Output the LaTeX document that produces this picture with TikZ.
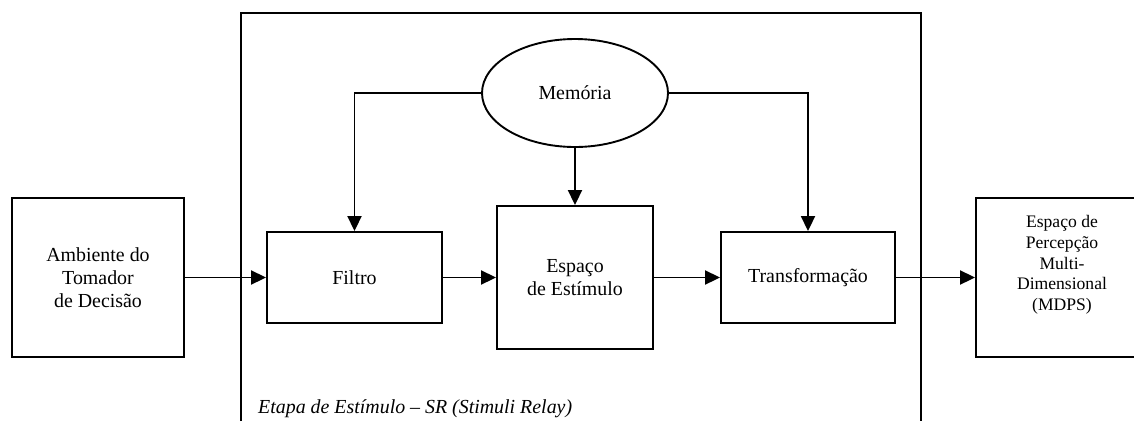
\documentclass[tikz,border=0pt]{standalone}
\usepackage{fontspec}
\setmainfont{Liberation Serif}
\usetikzlibrary{shapes.geometric,arrows.meta}
\tikzset{
  base/.style={font=\fontsize{19.9}{22.8}\selectfont, align=center, inner sep=0pt},
  blk/.style={base, draw, line width=1.9pt, rectangle},
  conn/.style={line width=1.9pt, -{Triangle[length=15pt,width=14pt]}},
  frame/.style={line width=1.9pt}
}
\begin{document}
\begin{tikzpicture}[x=1pt,y=-1pt]
\useasboundingbox (0,0) rectangle (1134,421);
% outer stage frame (open at bottom)
\coordinate (fbl) at (241,421);
\coordinate (ftl) at (241,13);
\coordinate (ftr) at (921,13);
\coordinate (fbr) at (921,421);
\draw[frame] (fbl) -- (ftl) -- (ftr) -- (fbr);
\node[base, anchor=base west, font=\fontsize{19.9}{22.8}\selectfont\itshape] (etapa) at (258,413) {Etapa de Estímulo -- SR (Stimuli Relay)};

\node[blk, minimum width=172, minimum height=159] (amb) at (98,277.5) {Ambiente do\\Tomador\\de Decisão};
\node[blk, minimum width=175, minimum height=91] (filtro) at (354.5,277.5) {Filtro};
\node[blk, minimum width=156, minimum height=143] (esp) at (575,277.5) {Espaço\\de Estímulo};
\node[blk, minimum width=174, minimum height=91] (trans) at (808,277.5) {Transformação};
\node[blk, minimum width=170, minimum height=159] (mdps) at (1061,277.5) {};
\node[base, font=\fontsize{17.6}{20.7}\selectfont] (mdpstext) at (1062,265) {Espaço de\\Percepção\\Multi-\\Dimensional\\(MDPS)};
\node[base, draw, ellipse, line width=1.9pt, minimum width=186, minimum height=108] (mem) at (575,93) {Memória};

\draw[conn] (amb.east) -- (filtro.west);
\draw[conn] (filtro.east) -- (esp.west);
\draw[conn] (esp.east) -- (trans.west);
\draw[conn] (trans.east) -- (mdps.west);
\draw[conn] (mem.west) -| (filtro.north);
\draw[conn] (mem.south) -- (esp.north);
\draw[conn] (mem.east) -| (trans.north);
\end{tikzpicture}
\end{document}
